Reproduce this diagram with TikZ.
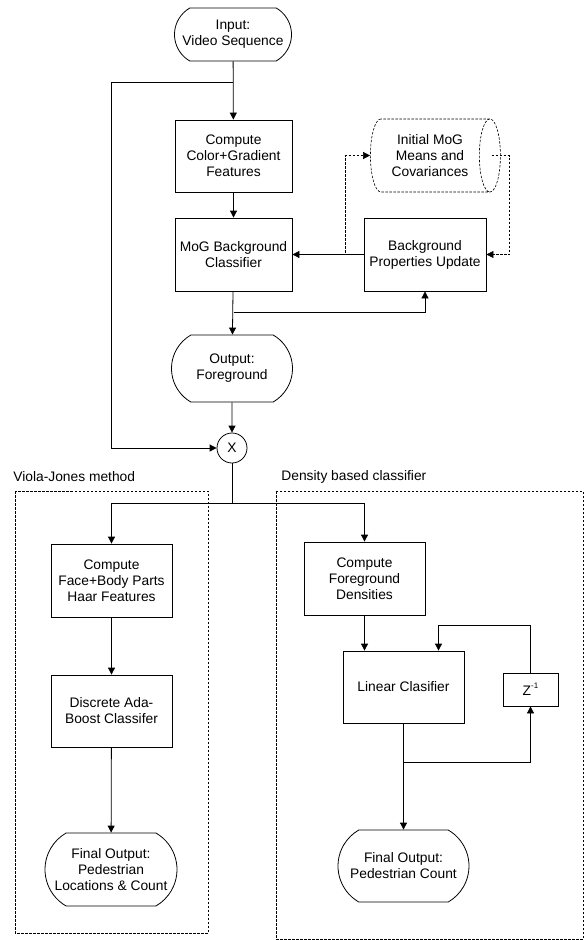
\documentclass[tikz,border=0pt]{standalone}
\usepackage{fontspec}
\setmainfont{Liberation Sans}
\usetikzlibrary{arrows.meta,positioning,calc,shapes.misc,shapes.geometric}

\begin{document}
\begin{tikzpicture}[x=1pt,y=-1pt,>={Triangle[length=7pt,width=7pt]},line width=0.8pt,
  font=\fontsize{13.8}{16}\selectfont,
  every node/.style={inner sep=0pt,align=center},
  proc/.style={draw,minimum width=121pt,minimum height=73pt},
  term/.style={draw,rounded rectangle,rounded rectangle arc length=120,minimum width=131pt,minimum height=73pt},
  dashline/.style={dash pattern=on 2.5pt off 1.5pt,line width=0.6pt}]
  \useasboundingbox (0,0) rectangle (584,940);
  \node[term,minimum width=117pt,minimum height=53pt] (in) at (233,34.5) {Input:\\Video Sequence};
  \node[proc,minimum width=117pt,minimum height=72pt] (cg) at (233.5,156) {Compute\\Color+Gradient\\Features};
  \node[proc,minimum width=117pt] (mog) at (233.5,254.5) {MoG Background\\Classifier};
  \node[draw,dashline,cylinder,aspect=0.5,minimum width=73pt,minimum height=130pt] (cyl) at (430,155.5) {Initial MoG\\Means and\\Covariances};
  \node[proc,minimum width=122pt] (bpu) at (425,254.5) {Background\\Properties Update};
  \node[term,minimum width=121pt,minimum height=67pt] (out) at (232,368.5) {Output:\\Foreground};
  \node[draw,circle,minimum size=30pt] (mult) at (232,448) {X};
  \node[anchor=west] (vjlbl) at (13,477) {Viola-Jones method};
  \node[anchor=west] (dblbl) at (281,477) {Density based classifier};
  \draw[dashline] (15,491) rectangle (208,933);
  \draw[dashline] (276,491) rectangle (583,939);
  \node[proc] (face) at (111.5,580.5) {Compute\\Face+Body Parts\\Haar Features};
  \node[proc,minimum height=72pt] (ada) at (111.5,711) {Discrete Ada-\\Boost Classifer};
  \node[term,minimum width=132pt] (fin1) at (111,869.5) {Final Output:\\Pedestrian\\Locations \& Count};
  \node[proc] (dens) at (364.5,578.5) {Compute\\Foreground\\Densities};
  \node[proc,minimum height=72pt] (lin) at (403.5,687) {Linear Clasifier};
  \node[proc,minimum width=55pt,minimum height=33pt] (zinv) at (530.5,689.5) {Z\raisebox{0.9ex}{\fontsize{8}{8}\selectfont -1}};
  \node[term,minimum height=72pt] (fin2) at (403.5,866) {Final Output:\\Pedestrian Count};
  \draw[->] (in) -- (cg);
  \draw[->] (cg) -- (mog);
  \draw[->] (bpu) -- (mog);
  \draw[->] ($(in.south)+(0,21)$) -- ++(-122,0) |- (mult.west);
  \draw[->] (mog) -- (out);
  \draw[->] ($(mog.south)+(0,21)$) -| (bpu.south);
  \draw[dashline,->] (bpu.west) -- ++(-18,0) |- (cyl.west);
  \draw[dashline,->] ($(cyl.east)+(-9,0)$) -- ++(18,0) |- (bpu.east);
  \draw[->] (out) -- (mult);
  \draw (mult.south) -- ++(0,40) coordinate (split);
  \draw[->] (split) -| (face.north);
  \draw[->] (split) -| (dens.north);
  \draw[->] (face) -- (ada);
  \draw[->] (ada) -- (fin1);
  \draw[->] (dens.south) -- (dens.south |- lin.north);
  \draw[->] (lin) -- (fin2);
  \draw[->] ($(lin.south)+(0,39)$) -| (zinv.south);
  \draw[->] (zinv.north) -- ++(0,-47) -| ($(lin.north)+(35,0)$);
\end{tikzpicture}
\end{document}
